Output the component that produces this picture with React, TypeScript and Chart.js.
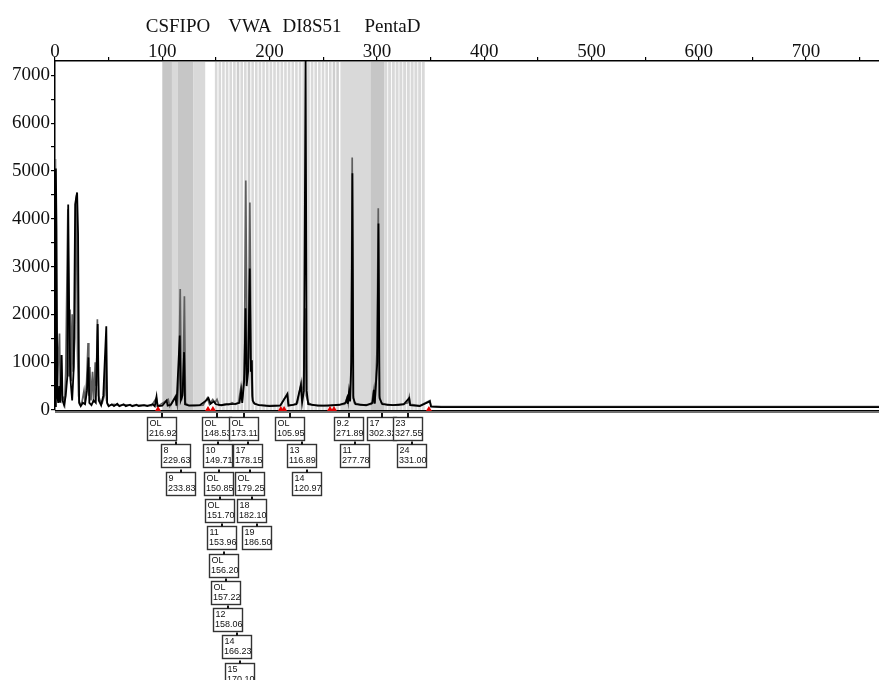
import React, { useEffect, useRef } from 'react';
import { Chart, registerables } from 'chart.js';

Chart.register(...registerables);

// ---- locus names on top ----
const LOCUS_NAMES = ['CSFIPO', 'VWA', 'DI8S51', 'PentaD'];
const LOCUS_CENTERS = [114.6, 181.7, 239.5, 314.5];

// ---- axes ----
const X_MIN = 0;
const X_MAX = 768;
const X_TICKS = [0, 50, 100, 150, 200, 250, 300, 350, 400, 450, 500, 550, 600, 650, 700, 750];
const X_LABELS = ['0', '', '100', '', '200', '', '300', '', '400', '', '500', '', '600', '', '700', ''];
const Y_MIN = 0;
const Y_MAX = 7300;
const Y_TICKS = [0, 500, 1000, 1500, 2000, 2500, 3000, 3500, 4000, 4500, 5000, 5500, 6000, 6500, 7000];
const Y_LABELS = ['0', '', '1000', '', '2000', '', '3000', '', '4000', '', '5000', '', '6000', '', '7000'];

// ---- traces [size (bp), RFU] ----
const BLACK_TRACE: [number, number][] = [
  [0, 80], [0.8, 5050], [1.4, 3800], [2.2, 300], [3, 150], [4, 500], [4.8, 150], [6.2, 1150], [7, 200],
  [8.5, 100], [10, 300], [11.5, 700], [12.3, 4300], [13.2, 2100], [14.2, 700], [16, 200], [17.5, 900],
  [18.8, 4300], [20.6, 4550], [21.5, 3700], [22.5, 150], [24, 80], [26, 150], [28, 120], [29.8, 400],
  [31.2, 1100], [32, 150], [34, 100], [36, 200], [38, 150], [39.8, 1800], [40.8, 200], [43, 100],
  [45, 300], [47.8, 1750], [48.6, 150], [50, 80], [53, 120], [55, 80], [58, 130], [60, 80], [64, 120],
  [66, 80], [70, 110], [72, 80], [76, 110], [78, 80], [83, 100], [86, 80], [91, 120], [93, 80],
  [94.6, 280], [95.5, 80], [100, 90], [104, 200], [105, 90], [108, 110], [112.3, 270], [113.2, 90],
  [116.3, 1560], [117.2, 200], [118.8, 300], [120.3, 1210], [121.2, 120], [125, 90], [135, 100],
  [141, 200], [143, 250], [145, 130], [148, 180], [150, 120], [155, 100], [160, 120], [168, 130],
  [172, 150], [173.5, 400], [174.5, 150], [176.3, 600], [177.6, 2130], [178.6, 500], [180, 800],
  [181.5, 2960], [182.5, 800], [183.3, 1040], [184.2, 200], [186, 130], [190, 100], [200, 80],
  [210, 90], [216.5, 330], [217.5, 90], [225, 120], [229.2, 520], [230.3, 150], [232, 400],
  [233.6, 7400], [234.6, 400], [236, 120], [245, 90], [255, 90], [265, 110], [271, 150], [272.3, 250],
  [273, 130], [274, 380], [275, 180], [276.2, 1000], [277.2, 4950], [278.1, 250], [280, 120],
  [290, 100], [296, 150], [297.2, 420], [298, 130], [300.4, 1000], [301.5, 3900], [302.5, 250],
  [305, 120], [315, 100], [325, 120], [330.1, 250], [331, 100], [340, 80], [349.3, 180], [350.5, 70],
  [360, 60], [768, 60],
];

const GREY_TRACE: [number, number][] = [
  [0, 80], [0.4, 5250], [1.2, 900], [2, 300], [3, 1000], [4.2, 1600], [5, 300], [5.8, 1150], [6.8, 200],
  [8, 250], [9, 150], [10, 800], [11, 2500], [12, 4200], [13, 700], [14, 2100], [15, 600], [16, 2000],
  [17, 800], [18.5, 1500], [19.4, 4400], [20.2, 4500], [21, 1200], [22, 300], [23, 120], [25, 150],
  [27, 400], [28, 150], [29.5, 600], [30.8, 1400], [31.5, 300], [32.5, 900], [33.5, 200], [35, 800],
  [36, 150], [37.5, 1000], [38.5, 500], [39.5, 1900], [40.5, 300], [42, 200], [44, 150], [46, 300],
  [47.3, 1150], [48, 200], [49, 120], [50, 90], [55, 120], [60, 90], [66, 110], [72, 90], [80, 100],
  [90, 90], [94.5, 250], [96, 80], [105.5, 220], [107, 80], [112.5, 300], [114, 100], [115.5, 700],
  [116.7, 2530], [117.8, 200], [119.3, 400], [120.6, 2380], [121.6, 150], [124, 100], [130, 90],
  [138, 100], [142, 250], [144, 120], [147, 220], [149, 150], [151, 220], [153, 100], [158, 120],
  [162, 110], [165, 150], [168, 120], [171, 150], [173.3, 480], [174.5, 200], [176.4, 750],
  [177.8, 4800], [179, 900], [180.5, 1100], [181.6, 4340], [182.8, 1040], [183.6, 300], [185, 150],
  [188, 120], [192, 100], [200, 90], [210, 100], [216.8, 350], [218, 100], [222, 110], [226, 150],
  [229.3, 560], [230.3, 200], [231.8, 700], [233, 2130], [234.2, 300], [236, 150], [240, 100],
  [250, 90], [258, 100], [265, 110], [270, 120], [272.4, 270], [273.3, 150], [274.2, 400], [275.2, 200],
  [276.1, 1200], [277, 5280], [277.9, 300], [279, 150], [285, 100], [295, 120], [297.3, 440],
  [298.2, 150], [300.2, 1300], [301.3, 4220], [302.3, 300], [304, 150], [310, 100], [320, 100],
  [326, 130], [329, 150], [330.2, 270], [331, 120], [340, 90], [349.5, 200], [350.5, 80], [360, 70],
  [768, 70],
];

// ---- allelic ladder bins (bp) ----
const BIN_START = [
  100, 109, 114.6, 129,
  149, 152.4, 155.8, 159.2, 162.6, 166, 169.4, 172.8, 176.2, 179.6, 183, 186.4, 189.8, 193.2, 196.6,
  200, 203.4, 206.8, 210.2, 213.6, 217, 220.4, 223.8, 227.2, 230.6, 235, 238.4, 241.8, 245.2, 248.6,
  252, 255.4, 258.8, 262.2,
  266, 294,
  307, 310.5, 314, 317.5, 321, 324.5, 328, 331.5, 335, 338.5, 342,
];
const BIN_END = [
  109, 114.6, 129, 140,
  151.4, 154.8, 158.2, 161.6, 165, 168.4, 171.8, 175.2, 178.6, 182, 185.4, 188.8, 192.2, 195.6, 199,
  202.4, 205.8, 209.2, 212.6, 216, 219.4, 222.8, 226.2, 229.6, 233, 237.4, 240.8, 244.2, 247.6, 251,
  254.4, 257.8, 261.2, 264.6,
  294, 307,
  309.7, 313.2, 316.7, 320.2, 323.7, 327.2, 330.7, 334.2, 337.7, 341.2, 344.6,
];
const BIN_TONE = [
  'dark', 'light', 'dark', 'light',
  'light', 'light', 'light', 'light', 'light', 'light', 'mid', 'light', 'light', 'mid', 'light', 'light',
  'light', 'light', 'light', 'light', 'light', 'light', 'light', 'light', 'light', 'light', 'light',
  'light', 'light', 'light', 'light', 'light', 'light', 'light', 'light', 'light', 'mid', 'mid',
  'light', 'dark',
  'light', 'light', 'light', 'light', 'light', 'light', 'light', 'light', 'light', 'light', 'light',
];

// ---- red markers on the baseline (bp) ----
const MARKERS = [96, 142.6, 147.2, 210.5, 213.5, 256.3, 260, 348.5];

// ---- allele call boxes ----
const BOX_ALLELES = [
  'OL', '8', '9',
  'OL', '10', 'OL', 'OL', '11', 'OL', 'OL', '12', '14', '15',
  'OL', '17', 'OL', '18', '19',
  'OL', '13', '14',
  '9.2', '11',
  '17', '23', '24',
];
const BOX_SIZES = [
  '216.92', '229.63', '233.83',
  '148.53', '149.71', '150.85', '151.70', '153.96', '156.20', '157.22', '158.06', '166.23', '170.10',
  '173.11', '178.15', '179.25', '182.10', '186.50',
  '105.95', '116.89', '120.97',
  '271.89', '277.78',
  '302.32', '327.55', '331.00',
];
// layout of boxes: left edge on the size axis, and stacking row
const BOX_ANCHOR = [
  85.7, 98.8, 103.4,
  137, 138, 138.9, 139.8, 141.7, 143.5, 145.4, 147.3, 155.6, 158.4,
  162.2, 165.9, 167.8, 169.6, 174.3,
  205, 216.2, 220.9,
  260, 265.6,
  290.8, 315, 318.7,
];
const BOX_ROW = [
  0, 1, 2,
  0, 1, 2, 3, 4, 5, 6, 7, 8, 9,
  0, 1, 2, 3, 4,
  0, 1, 2,
  0, 1,
  0, 0, 1,
];

const SERIF = '"Liberation Serif", "Times New Roman", serif';

const binsPlugin = {
  id: 'bins',
  beforeDatasetsDraw(chart: any) {
    const { ctx, chartArea, scales } = chart;
    const x = scales.x;
    ctx.save();
    BIN_START.forEach((s, i) => {
      const x0 = x.getPixelForValue(s);
      const x1 = x.getPixelForValue(BIN_END[i]);
      const tone = BIN_TONE[i];
      ctx.fillStyle = tone === 'dark' ? '#c6c6c6' : tone === 'mid' ? '#cecece' : '#d9d9d9';
      ctx.fillRect(x0, chartArea.top + 1, x1 - x0, chartArea.bottom - chartArea.top - 1);
    });
    ctx.restore();
  },
};

const decorPlugin = {
  id: 'decor',
  afterDatasetsDraw(chart: any) {
    const { ctx, chartArea, scales } = chart;
    const x = scales.x;
    const b = chartArea.bottom;
    ctx.save();
    ctx.strokeStyle = '#000';
    ctx.lineWidth = 1;
    ctx.beginPath();
    ctx.moveTo(chartArea.left, b + 0.5);
    ctx.lineTo(chartArea.right, b + 0.5);
    ctx.stroke();
    ctx.strokeStyle = '#707070';
    ctx.lineWidth = 2;
    ctx.beginPath();
    ctx.moveTo(chartArea.left, b + 2);
    ctx.lineTo(chartArea.right, b + 2);
    ctx.stroke();
    ctx.fillStyle = '#e00000';
    MARKERS.forEach((m) => {
      const px = x.getPixelForValue(m);
      ctx.beginPath();
      ctx.moveTo(px - 3, b + 1);
      ctx.lineTo(px + 3, b + 1);
      ctx.lineTo(px, b - 4);
      ctx.closePath();
      ctx.fill();
    });
    ctx.restore();
  },
  afterDraw(chart: any) {
    const { ctx, chartArea, scales } = chart;
    const x = scales.x;
    const b = chartArea.bottom;
    ctx.save();
    ctx.fillStyle = '#111';
    ctx.font = `19px ${SERIF}`;
    ctx.textAlign = 'center';
    ctx.textBaseline = 'middle';
    LOCUS_NAMES.forEach((n, i) => {
      ctx.fillText(n, x.getPixelForValue(LOCUS_CENTERS[i]), 27);
    });
    const w = 29;
    const h = 23;
    const rowGap = 27.3;
    ctx.textAlign = 'left';
    ctx.textBaseline = 'top';
    ctx.font = '9px "Liberation Sans", Arial, sans-serif';
    BOX_ALLELES.forEach((a, i) => {
      const bx = Math.round(x.getPixelForValue(BOX_ANCHOR[i])) + 0.5;
      const by = Math.round(b + 7 + BOX_ROW[i] * rowGap) + 0.5;
      ctx.fillStyle = '#fff';
      ctx.fillRect(bx, by, w, h);
      ctx.strokeStyle = '#333';
      ctx.lineWidth = 1.4;
      ctx.strokeRect(bx, by, w, h);
      ctx.strokeStyle = '#111';
      ctx.lineWidth = 2;
      ctx.beginPath();
      const cx = bx + w / 2;
      ctx.moveTo(cx, by);
      ctx.lineTo(cx, BOX_ROW[i] === 0 ? b + 3 : by - 3);
      ctx.stroke();
      ctx.fillStyle = '#111';
      ctx.fillText(a, bx + 2, by + 2);
      ctx.fillText(BOX_SIZES[i], bx + 1.5, by + 12);
    });
    ctx.restore();
  },
};

export default function App() {
  const ref = useRef<HTMLCanvasElement | null>(null);
  useEffect(() => {
    if (!ref.current) return;
    const chart = new Chart(ref.current, {
      type: 'line',
      data: {
        datasets: [
          {
            label: 'sample',
            data: BLACK_TRACE.map(([s, v]) => ({ x: s, y: v })),
            borderColor: '#000',
            borderWidth: 1.8,
            pointRadius: 0,
            tension: 0,
            fill: false,
          },
          {
            label: 'ladder',
            data: GREY_TRACE.map(([s, v]) => ({ x: s, y: v })),
            borderColor: '#5e5e5e',
            borderWidth: 1.7,
            pointRadius: 0,
            tension: 0,
            fill: false,
          },
        ],
      },
      options: {
        animation: false,
        responsive: false,
        devicePixelRatio: 1,
        layout: { padding: { left: 0, right: 0, top: 0, bottom: 270 } },
        plugins: {
          legend: { display: false },
          title: { display: false },
          tooltip: { enabled: false },
        },
        scales: {
          x: {
            type: 'linear',
            position: 'top',
            min: X_MIN,
            max: X_MAX,
            afterFit: (s: any) => {
              s.height = 61;
            },
            afterBuildTicks: (s: any) => {
              s.ticks = X_TICKS.map((v) => ({ value: v }));
            },
            grid: { drawOnChartArea: false, drawTicks: true, tickLength: 4, color: '#000', lineWidth: 1.2 },
            border: { color: '#000', width: 1.5 },
            ticks: {
              autoSkip: false,
              maxRotation: 0,
              padding: -6,
              color: '#111',
              font: { family: SERIF, size: 19 },
              callback: (_v: any, i: number) => X_LABELS[i] ?? '',
            },
          },
          y: {
            type: 'linear',
            min: Y_MIN,
            max: Y_MAX,
            afterFit: (s: any) => {
              s.width = 55;
            },
            afterBuildTicks: (s: any) => {
              s.ticks = Y_TICKS.map((v) => ({ value: v }));
            },
            grid: { drawOnChartArea: false, drawTicks: true, tickLength: 4, color: '#000', lineWidth: 1.2 },
            border: { color: '#000', width: 1.5 },
            ticks: {
              autoSkip: false,
              padding: 1,
              color: '#111',
              font: { family: SERIF, size: 19 },
              callback: (_v: any, i: number) => Y_LABELS[i] ?? '',
            },
          },
        },
      },
      plugins: [binsPlugin, decorPlugin],
    });
    return () => chart.destroy();
  }, []);
  return (
    <div style={{ position: 'absolute', left: 0, top: 0, width: 879, height: 680, background: '#fff' }}>
      <canvas ref={ref} width={879} height={680} />
    </div>
  );
}
